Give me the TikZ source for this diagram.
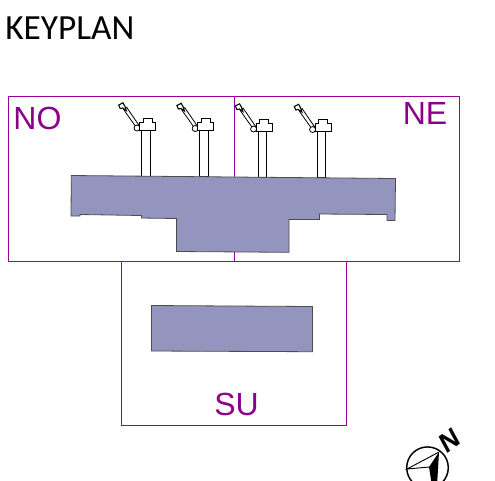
\documentclass[tikz,border=0pt]{standalone}
\usepackage{fontspec}
\setmainfont{Liberation Sans}
\newfontfamily\keyfont{Carlito}
\definecolor{framepurple}{HTML}{990099}
\definecolor{labelpurple}{HTML}{8B008B}
\definecolor{bldg}{HTML}{9395BF}
\tikzset{
  x=0.75pt,y=-0.75pt,
  frameline/.style={draw=framepurple,line width=0.7pt},
  building/.style={draw=black!70,fill=bldg,line width=0.6pt},
  fixture/.style={draw=black,line width=0.6pt,fill=white},
  pics/lift/.style={code={
    \draw[fixture] (-4.4,0) rectangle (4.4,-47);
    \draw[fixture] (-19.2,-68.9) -- (-22.2,-66.7) -- (-9.3,-48.4) -- (-6.5,-50.4) -- cycle;
    \draw[fixture,line width=0.8pt] (-27,-71) -- (-22.7,-73.2) -- (-20.7,-69.5) -- (-19.4,-65.5) -- (-23,-68) -- (-25.5,-67.5) -- cycle;
    \draw[fixture] (-8.7,-48) circle[radius=3];
    \draw[fixture] (-6.2,-46) -- (-6.2,-54) -- (-2.8,-54) -- (-2.8,-58) -- (6.2,-58) -- (6.2,-54) -- (9.8,-54) -- (9.8,-46) -- cycle;
  }},
  zonelabel/.style={text=labelpurple,font=\fontsize{24}{24}\selectfont,inner sep=0pt}
}
\begin{document}
\begin{tikzpicture}
\useasboundingbox (0,0) rectangle (495,480);
\clip (0,0) rectangle (495,480);
\node[anchor=west,inner sep=0pt,font=\keyfont\fontsize{26.5}{26.5}\selectfont] (title) at (5,28) {KEYPLAN};
\draw[frameline] (8.5,96.5) rectangle (234,261);
\draw[frameline] (234,96.5) rectangle (459.5,261);
\draw[frameline] (121.5,261) rectangle (346.5,425.5);
\pic at (145.7,176) {lift};
\pic at (203.9,176.5) {lift};
\pic at (262.3,177) {lift};
\pic at (321.3,177.5) {lift};
\draw[building] (71.3,175.5) -- (395.5,178.5) -- (395,220.5) -- (387,220.5) -- (387,214.5) -- (319.5,214) -- (319.5,219.5) -- (289,219.5) -- (289,252.3) -- (176.5,251.5) -- (176.5,218.5) -- (141.5,218) -- (141.5,215.5) -- (80,214.5) -- (80,216) -- (71,216) -- cycle;
\draw[building] (151.5,305.5) -- (312.5,306.5) -- (312.5,351.7) -- (151.5,351) -- cycle;
\node[zonelabel] (no) at (37.5,118) {NO};
\node[zonelabel] (ne) at (425,113) {NE};
\node[zonelabel] (su) at (236.5,404) {SU};
\draw[black,line width=1.1pt] (427.5,467.7) circle[radius=20.8];
\draw[black,line width=0.7pt] (439,452) -- (407,469) -- (429,467);
\fill[black] (439,452) -- (429,467) -- (432,486) -- (437,486) -- cycle;
\node[rotate=37,xslant=0.15,inner sep=0pt,font=\bfseries\fontsize{20}{20}\selectfont] (north) at (450,441) {N};
\end{tikzpicture}
\end{document}
